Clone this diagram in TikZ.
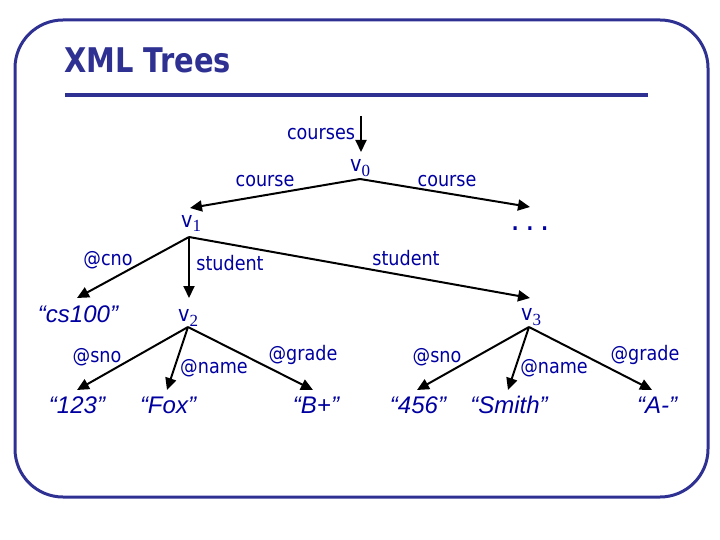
\documentclass[tikz,border=0pt]{standalone}
\usepackage{fontspec}
\usetikzlibrary{arrows.meta}
\newfontfamily\labfont{DejaVu Sans}[FakeStretch=0.88]
\newfontfamily\titlefont{DejaVu Sans}[FakeStretch=0.85]
\newfontfamily\valfont{Liberation Sans}
\newfontfamily\subfont{Liberation Serif}
\definecolor{frameblue}{RGB}{46,49,146}
\definecolor{txtblue}{RGB}{0,0,160}
\newcommand{\vx}[1]{{\labfont\fontsize{22}{24}\selectfont v}\raisebox{-5pt}{\subfont\fontsize{17}{18}\selectfont #1}}
\tikzset{
  lab/.style={anchor=base, inner sep=0pt, text=txtblue, font=\labfont\fontsize{20}{24}\selectfont},
  val/.style={anchor=base, inner sep=0pt, text=txtblue, font=\valfont\itshape\fontsize{24}{28}\selectfont},
  vert/.style={anchor=base west, inner sep=0pt, text=txtblue},
  edge/.style={line width=2pt, -{Triangle[length=12pt,width=11pt]}},
}
\begin{document}
\begin{tikzpicture}[x=1pt,y=-1pt]
\useasboundingbox (0,0) rectangle (720,540);
% frame
\draw[frameblue, line width=3pt, rounded corners=48pt] (15,20) rectangle (708,497);
\node[anchor=base west, inner sep=0pt, text=frameblue, font=\titlefont\bfseries\fontsize{34}{40}\selectfont] (title) at (64,73) {XML Trees};
\draw[frameblue, line width=4pt] (65,95) -- (648,95);
% vertex labels
\node[vert] (v0) at (350,172) {\vx{0}};
\node[vert] (v1) at (181,227) {\vx{1}};
\node[vert] (v2) at (178,321) {\vx{2}};
\node[vert] (v3) at (521,320) {\vx{3}};
\node[anchor=base, inner sep=0pt, text=txtblue, font=\labfont\bfseries\fontsize{20}{24}\selectfont] (dots) at (530,230) {.\hspace{8pt}.\hspace{8pt}.};
% values
\node[val] (cs) at (78,322) {“cs100”};
\node[val] (n123) at (77,413) {“123”};
\node[val] (fox) at (168,413) {“Fox”};
\node[val] (bp) at (316,413) {“B+”};
\node[val] (n456) at (418,413) {“456”};
\node[val] (smith) at (509,413) {“Smith”};
\node[val] (am) at (657,413) {“A-”};
% connector coordinates
\coordinate (top) at (361,116);
\coordinate (v0in) at (361,152);
\coordinate (v0out) at (360,179);
\coordinate (v1in) at (190,208);
\coordinate (dotsin) at (530,207);
\coordinate (v1out) at (189,237);
\coordinate (csin) at (77,298);
\coordinate (v2in) at (189,298);
\coordinate (v3in) at (530,298);
\coordinate (v2out) at (188,327);
\coordinate (n123in) at (77,390);
\coordinate (foxin) at (167,390);
\coordinate (bpin) at (313,390);
\coordinate (v3out) at (529,327);
\coordinate (n456in) at (417,390);
\coordinate (smithin) at (508,390);
\coordinate (amin) at (652,390);
% edges
\draw[edge] (top) -- (v0in);
\draw[edge] (v0out) -- (v1in);
\draw[edge] (v0out) -- (dotsin);
\draw[edge] (v1out) -- (csin);
\draw[edge] (v1out) -- (v2in);
\draw[edge] (v1out) -- (v3in);
\draw[edge] (v2out) -- (n123in);
\draw[edge] (v2out) -- (foxin);
\draw[edge] (v2out) -- (bpin);
\draw[edge] (v3out) -- (n456in);
\draw[edge] (v3out) -- (smithin);
\draw[edge] (v3out) -- (amin);
% edge labels
\node[lab] (lcourses) at (321,140) {courses};
\node[lab] (lcourse1) at (265,187) {course};
\node[lab] (lcourse2) at (447,187) {course};
\node[lab] (lcno) at (108,265) {@cno};
\node[lab] (lstud1) at (230,270) {student};
\node[lab] (lstud2) at (406,265) {student};
\node[lab] (lsno1) at (97,362) {@sno};
\node[lab] (lname1) at (214,373) {@name};
\node[lab] (lgrade1) at (303,360) {@grade};
\node[lab] (lsno2) at (437,362) {@sno};
\node[lab] (lname2) at (554,373) {@name};
\node[lab] (lgrade2) at (645,360) {@grade};
\end{tikzpicture}
\end{document}
